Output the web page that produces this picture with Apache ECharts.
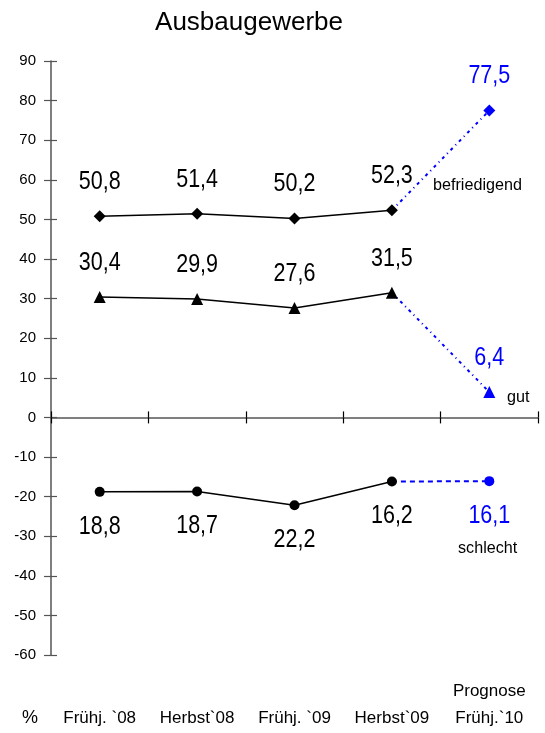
<!DOCTYPE html>
<html>
<head>
<meta charset="utf-8">
<script src="https://cdn.jsdelivr.net/npm/echarts@6/dist/echarts.min.js"></script>
<style>
  html, body { margin: 0; padding: 0; background: #fff; }
  #chart { width: 545px; height: 733px; }
</style>
</head>
<body>
<div id="chart"></div>
<script>
// Survey periods (last one is a forecast)
const categories = ["Frühj. `08", "Herbst`08", "Frühj. `09", "Herbst`09", "Prognose\nFrühj.`10"];
// Shares in percent
const befriedigend = [50.8, 51.4, 50.2, 52.3, 77.5];
const gut = [30.4, 29.9, 27.6, 31.5, 6.4];
// "schlecht" is plotted below zero; labels show the magnitude
const schlecht = [-18.8, -18.7, -22.2, -16.2, -16.1];
const yTicks = { min: -60, max: 90, interval: 10 };

const SANS = "'Liberation Sans', Arial, sans-serif";
const BLUE = '#0000ff';
const fmt = v => Math.abs(v).toFixed(1).replace('.', ',');

// Split a series into the observed part (solid black) and the forecast step (dotted blue)
function observed(values) {
  return values.map((v, i) => (i < values.length - 1 ? v : null));
}
function forecast(values) {
  const n = values.length;
  return values.map((v, i) => {
    if (i === n - 2) return { value: v, symbol: 'none' };
    if (i === n - 1) return v;
    return null;
  });
}

function pair(name, values, symbol, symbolSize, dash) {
  return [
    {
      name: name, type: 'line', data: observed(values),
      symbol: symbol, symbolSize: symbolSize,
      lineStyle: { color: '#000', width: 1.5 },
      itemStyle: { color: '#000' },
      z: 3
    },
    {
      name: name + ' Prognose', type: 'line', data: forecast(values),
      symbol: symbol, symbolSize: symbolSize,
      lineStyle: { color: BLUE, width: 2, type: dash },
      itemStyle: { color: BLUE },
      z: 2
    }
  ];
}

const chart = echarts.init(document.getElementById('chart'), null, { renderer: 'canvas' });
const axisGray = '#555';

chart.setOption({
  animation: false,
  backgroundColor: '#fff',
  title: {
    text: 'Ausbaugewerbe', left: 244, top: 5, textAlign: 'center',
    textStyle: { fontFamily: SANS, fontSize: 26, fontWeight: 'normal', color: '#000' }
  },
  grid: { left: 51, right: 7, top: 61, bottom: 78 },
  xAxis: [
    {
      // category labels along the bottom
      type: 'category', data: categories, position: 'bottom', boundaryGap: true,
      axisLine: { show: false, onZero: false }, axisTick: { show: false },
      axisLabel: {
        margin: 77, color: '#000', fontFamily: SANS,
        fontSize: 17, lineHeight: 27, verticalAlign: 'bottom'
      }
    },
    {
      // zero line with ticks below
      type: 'category', data: categories, position: 'bottom', boundaryGap: true,
      axisLine: { show: true, onZero: true, lineStyle: { color: axisGray, width: 1.5 } },
      axisTick: { show: true, inside: false, length: 6, lineStyle: { color: '#000', width: 1.2 } },
      axisLabel: { show: false }
    },
    {
      // ticks above the zero line
      type: 'category', data: categories, position: 'bottom', boundaryGap: true,
      axisLine: { show: false, onZero: true },
      axisTick: { show: true, inside: true, length: 6, lineStyle: { color: '#000', width: 1.2 } },
      axisLabel: { show: false }
    }
  ],
  yAxis: [
    {
      type: 'value', min: yTicks.min, max: yTicks.max, interval: yTicks.interval,
      splitLine: { show: false },
      axisLine: { show: true, onZero: false, lineStyle: { color: axisGray, width: 1.5 } },
      axisTick: { show: true, length: 7, lineStyle: { color: axisGray, width: 1.2 } },
      axisLabel: { margin: 15, color: '#000', fontFamily: SANS, fontSize: 15 }
    },
    {
      type: 'value', min: yTicks.min, max: yTicks.max, interval: yTicks.interval, position: 'left',
      splitLine: { show: false },
      axisLine: { show: false, onZero: false },
      axisTick: { show: true, inside: true, length: 6, lineStyle: { color: axisGray, width: 1.2 } },
      axisLabel: { show: false }
    }
  ],
  series: [
    ...pair('befriedigend', befriedigend, 'diamond', 12, [3, 4, 1, 4]),
    ...pair('gut', gut, 'triangle', 12, [3, 4, 1, 4]),
    ...pair('schlecht', schlecht, 'circle', 10, [5, 4])
  ]
});

// Value labels in a condensed face, placed through the chart's own axes
function valueLabels(values, offset) {
  return values.map((v, i) => {
    const p = chart.convertToPixel({ xAxisIndex: 0, yAxisIndex: 0 }, [i, v]);
    return {
      type: 'text', x: p[0], y: p[1] + offset, scaleX: 0.86, z: 10,
      style: {
        text: fmt(v), x: 0, y: 0, textAlign: 'center', textVerticalAlign: 'middle',
        font: "25px 'Liberation Sans', Arial, sans-serif",
        fill: i === values.length - 1 ? BLUE : '#000'
      }
    };
  });
}

const nameFont = "17px 'Liberation Sans', Arial, sans-serif";
chart.setOption({
  graphic: [
    ...valueLabels(befriedigend, -34),
    ...valueLabels(gut, -34),
    ...valueLabels(schlecht, 35),
    { type: 'text', x: 433, y: 185, scaleX: 0.95, style: { text: 'befriedigend', font: nameFont, fill: '#000', textVerticalAlign: 'middle' } },
    { type: 'text', x: 507, y: 397, scaleX: 0.95, style: { text: 'gut', font: nameFont, fill: '#000', textVerticalAlign: 'middle' } },
    { type: 'text', x: 458, y: 548, scaleX: 0.95, style: { text: 'schlecht', font: nameFont, fill: '#000', textVerticalAlign: 'middle' } },
    { type: 'text', x: 22, y: 718, style: { text: '%', font: "18px 'Liberation Sans', Arial, sans-serif", fill: '#000', textVerticalAlign: 'middle' } }
  ]
});
</script>
</body>
</html>
